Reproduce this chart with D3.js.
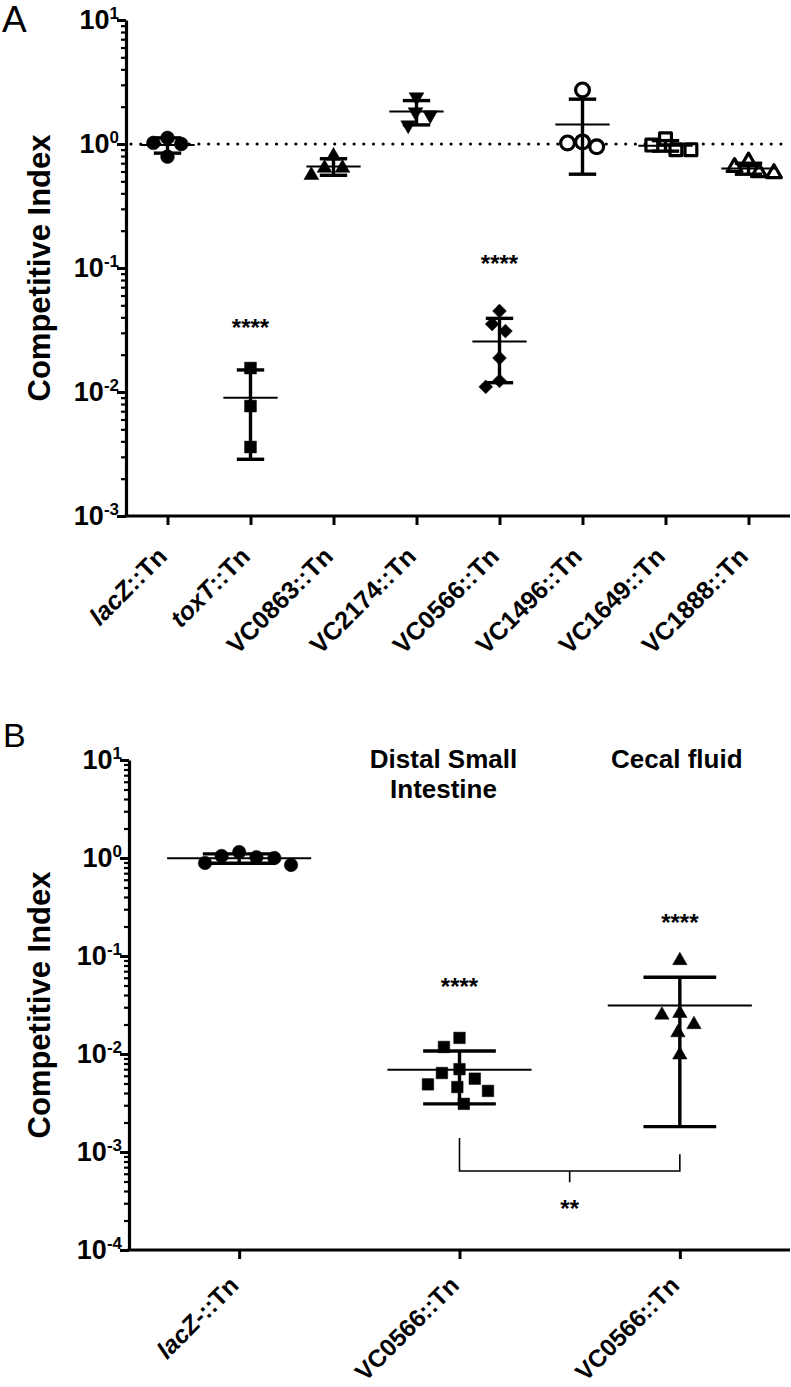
<!DOCTYPE html>
<html><head><meta charset="utf-8">
<script src="https://cdn.jsdelivr.net/npm/d3@7"></script>
<style>
body{margin:0;background:#fff}
text{font-family:"Liberation Sans",Arial,Helvetica,sans-serif;fill:#000}
</style>
</head><body>
<svg id="chart" width="791" height="1387"></svg>
<script>
// ---------------- DATA ----------------
// Panel A
const categoriesA = ["lacZ::Tn","toxT::Tn","VC0863::Tn","VC2174::Tn","VC0566::Tn","VC1496::Tn","VC1649::Tn","VC1888::Tn"];
const lacZA   = [1.02, 0.79, 1.00, 1.12];
const toxTA   = [0.0156, 0.0077, 0.0036];
const vc0863A = [0.64, 0.56, 0.64, 0.80];
const vc2174A = [1.81, 2.39, 1.42, 1.71];
const vc0566A = [0.045, 0.031, 0.0353, 0.0188, 0.011, 0.0123];
const vc1496A = [1.04, 2.73, 0.95, 1.02];
const vc1649A = [0.98, 0.90, 0.90, 1.10];
const vc1888A = [0.65, 0.58, 0.59, 0.72];
const seriesA = [lacZA, toxTA, vc0863A, vc2174A, vc0566A, vc1496A, vc1649A, vc1888A];
const sigLabelsA = ["", "****", "", "", "****", "", "", ""];
const sigAtA     = [null, 0.037, null, null, 0.12, null, null, null];
const refLineA = 1;
const yTicksA = [10, 1, 0.1, 0.01, 0.001];
const yExpA   = ["1", "0", "-1", "-2", "-3"];

// Panel B
const categoriesB = ["lacZ-::Tn", "VC0566::Tn", "VC0566::Tn"];
const headersB = [[], ["Distal Small", "Intestine"], ["Cecal fluid"]];
const lacZB  = [1.02, 1.00, 0.85, 0.89, 1.05, 1.15];
const dsiB   = [0.0146, 0.0118, 0.0064, 0.0070, 0.0056, 0.0046, 0.0049, 0.0042, 0.0031];
const cecalB = [0.090, 0.026, 0.025, 0.020, 0.0165, 0.0098];
const seriesB = [lacZB, dsiB, cecalB];
const sigLabelsB = ["", "****", "****"];
const sigAtB     = [null, 0.0556, 0.25];
const bracketB = {from: 1, to: 2, leftTop: 0.00139, rightTop: 0.00095, bar: 0.00064, tick: 0.00049, label: "**", labelAt: 0.0003};
const yTicksB = [10, 1, 0.1, 0.01, 0.001, 0.0001];
const yExpB   = ["1", "0", "-1", "-2", "-3", "-4"];

// ---------------- STYLE ----------------
const markersA = ["circle","square","triangle","triangleDown","diamond","circleOpen","squareOpen","triangleOpen"];
const markersB = ["circle","square","triangle"];

const svg = d3.select("#chart");

function symbolPath(kind, scale) {
  const base = kind.replace("Open","").replace("Down","");
  let type, size;
  if (base === "circle")   { type = d3.symbolCircle;   size = 150 * scale; }
  if (base === "square")   { type = d3.symbolSquare;   size = 140 * scale; }
  if (base === "triangle") { type = d3.symbolTriangle; size = 95 * scale; }
  if (base === "diamond")  { type = d3.symbolSquare;   size = 95 * scale; }
  return d3.symbol().type(type).size(size)();
}

function swarm(ys, s) {
  const idx = d3.range(ys.length).sort((a, b) => ys[a] - ys[b]);
  const placed = [], off = new Array(ys.length);
  for (const i of idx) {
    const iv = [];
    for (const p of placed) {
      const dy = Math.abs(ys[i] - p.y);
      if (dy < s) { const h = Math.sqrt(s * s - dy * dy); iv.push([p.x - h, p.x + h]); }
    }
    const cands = [0].concat(iv.flat()).sort((a, b) => Math.abs(a) - Math.abs(b) || a - b);
    const x = cands.find(c => iv.every(([l, r]) => c <= l + 1e-6 || c >= r - 1e-6));
    placed.push({x, y: ys[i]});
    off[i] = x;
  }
  return off;
}

function labelParts(t) {
  // gene names beginning with lowercase are italic (e.g. lacZ, toxT)
  const m = t.match(/^([a-z][A-Za-z]*)(.*)$/);
  return m ? [[m[1], true], [m[2], false]] : [[t, false]];
}

function drawPanel(cfg) {
  const g = svg.append("g");
  const y = d3.scaleLog().domain(cfg.yDomain).range([cfg.top, cfg.bottom]);
  const x = d3.scalePoint().domain(d3.range(cfg.categories.length)).range([cfg.left, cfg.right]).padding(0.5);
  const step = x.step();

  // minor ticks
  const minors = [];
  const lo = Math.log10(cfg.yDomain[1]), hi = Math.log10(cfg.yDomain[0]);
  for (let e = lo; e < hi; e++) for (let m = 2; m <= 9; m++) minors.push(m * Math.pow(10, e));
  const yMinor = g.append("g").attr("transform", `translate(${cfg.left},0)`)
    .call(d3.axisLeft(y).tickValues(minors).tickSize(5).tickSizeOuter(0).tickFormat(""));
  yMinor.select(".domain").remove();
  yMinor.selectAll("line").attr("stroke", "#000").attr("stroke-width", 2.2);

  const yMajor = g.append("g").attr("transform", `translate(${cfg.left},0)`)
    .call(d3.axisLeft(y).tickValues(cfg.yTicks).tickSize(9).tickSizeOuter(0).tickFormat(""));
  yMajor.select(".domain").attr("stroke", "#000").attr("stroke-width", 3.2);
  yMajor.selectAll("line").attr("stroke", "#000").attr("stroke-width", 3);

  // y tick labels 10^n
  cfg.yTicks.forEach((v, i) => {
    const t = g.append("text").attr("x", cfg.left - 7).attr("y", y(v) + 9)
      .attr("text-anchor", "end").attr("font-weight", "bold");
    t.append("tspan").attr("font-size", 27).text("10");
    t.append("tspan").attr("font-size", 17).attr("dy", -10).text(cfg.yExp[i]);
  });

  // x axis
  const xAx = g.append("g").attr("transform", `translate(0,${cfg.bottom})`)
    .call(d3.axisBottom(x).tickSize(9).tickSizeOuter(0).tickFormat(""));
  xAx.select(".domain").attr("stroke", "#000").attr("stroke-width", 3.2)
    .attr("d", `M${cfg.left - 1.6},0H${cfg.right}`);
  xAx.selectAll("line").attr("stroke", "#000").attr("stroke-width", 3);

  // x labels rotated
  cfg.categories.forEach((c, i) => {
    const t = g.append("text")
      .attr("transform", `translate(${x(i) + 1},${cfg.bottom + cfg.labelDy}) rotate(-45)`)
      .attr("text-anchor", "end").attr("font-weight", "bold").attr("font-size", cfg.labelSize);
    labelParts(c).forEach(([s, it]) => t.append("tspan").attr("font-style", it ? "italic" : "normal").text(s));
  });

  // y title
  g.append("text").attr("transform", `translate(${cfg.titleX},${(cfg.top + cfg.bottom) / 2}) rotate(-90)`)
    .attr("text-anchor", "middle").attr("font-weight", "bold").attr("font-size", 31)
    .text("Competitive Index");

  // panel letter
  g.append("text").attr("x", cfg.letterX).attr("y", cfg.letterY)
    .attr("font-size", cfg.letterSize).text(cfg.letter);

  // reference dotted line
  if (cfg.refLine != null) {
    g.append("line").attr("x1", cfg.left + 5).attr("x2", cfg.right)
      .attr("y1", y(cfg.refLine)).attr("y2", y(cfg.refLine))
      .attr("stroke", "#000").attr("stroke-width", 3.2)
      .attr("stroke-linecap", "round").attr("stroke-dasharray", "0,9.7");
  }

  // groups
  cfg.series.forEach((vals, i) => {
    const cx = x(i);
    const ys = vals.map(v => y(v));
    const offs = swarm(ys, cfg.swarmDist);
    const kind = cfg.markers[i];
    const open = kind.includes("Open");
    const pts = g.append("g");
    vals.forEach((v, j) => {
      let rot = 0;
      if (kind.includes("Down")) rot = 180;
      if (kind === "diamond") rot = 45;
      pts.append("path").attr("d", symbolPath(kind, open ? cfg.openScale : cfg.markerScale))
        .attr("transform", `translate(${cx + offs[j]},${ys[j]}) rotate(${rot})`)
        .attr("fill", open ? "#fff" : "#000")
        .attr("stroke", "#000").attr("stroke-width", open ? 3.2 : 0.5)
        .attr("stroke-linejoin", "round");
    });
    const mean = d3.mean(vals), sd = d3.deviation(vals);
    const hiV = mean + sd, loV = Math.max(mean - sd, cfg.yDomain[1]);
    const eb = g.append("g").attr("stroke", "#000");
    eb.append("line").attr("x1", cx).attr("x2", cx).attr("y1", y(hiV)).attr("y2", y(loV)).attr("stroke-width", 3.4);
    [hiV, loV].forEach(b => eb.append("line").attr("x1", cx - step * 0.165).attr("x2", cx + step * 0.165)
      .attr("y1", y(b)).attr("y2", y(b)).attr("stroke-width", 3.4));
    eb.append("line").attr("x1", cx - step * 0.327).attr("x2", cx + step * 0.327)
      .attr("y1", y(mean)).attr("y2", y(mean)).attr("stroke-width", 2);

    if (cfg.sigLabels[i]) {
      g.append("text").attr("x", cx).attr("y", y(cfg.sigAt[i]) + 14)
        .attr("text-anchor", "middle").attr("font-weight", "bold").attr("font-size", 24)
        .text(cfg.sigLabels[i]);
    }
    if (cfg.headers && cfg.headers[i].length) {
      cfg.headers[i].forEach((h, k) => {
        g.append("text").attr("x", cx + cfg.headerDx[i]).attr("y", cfg.top + 8 + k * 30)
          .attr("text-anchor", "middle").attr("font-weight", "bold").attr("font-size", 26).text(h);
      });
    }
  });

  if (cfg.bracket) {
    const b = cfg.bracket, xl = x(b.from), xr = x(b.to), xm = (xl + xr) / 2;
    g.append("path")
      .attr("d", `M${xl},${y(b.leftTop)}V${y(b.bar)}H${xr}V${y(b.rightTop)}M${xm},${y(b.bar)}V${y(b.tick)}`)
      .attr("fill", "none").attr("stroke", "#000").attr("stroke-width", 1.6);
    g.append("text").attr("x", xm).attr("y", y(b.labelAt) + 14)
      .attr("text-anchor", "middle").attr("font-weight", "bold").attr("font-size", 24).text(b.label);
  }
}

drawPanel({
  categories: categoriesA, series: seriesA, markers: markersA,
  yDomain: [10, 0.001], yTicks: yTicksA, yExp: yExpA,
  left: 126, right: 790, top: 20, bottom: 516, labelDy: 42, labelSize: 25,
  refLine: refLineA, sigLabels: sigLabelsA, sigAt: sigAtA,
  swarmDist: 15, markerScale: 1.0, openScale: 1.0,
  titleX: 50, letter: "A", letterX: 2, letterY: 32, letterSize: 37
});

drawPanel({
  categories: categoriesB, series: seriesB, markers: markersB,
  yDomain: [10, 0.0001], yTicks: yTicksB, yExp: yExpB,
  left: 129, right: 790, top: 760, bottom: 1250, labelDy: 37, labelSize: 24.5,
  refLine: null, sigLabels: sigLabelsB, sigAt: sigAtB,
  headers: headersB, headerDx: [0, -16, -3],
  bracket: bracketB,
  swarmDist: 18, markerScale: 0.95, openScale: 1.0,
  titleX: 50, letter: "B", letterX: 3, letterY: 747, letterSize: 34
});
</script>
</body></html>
